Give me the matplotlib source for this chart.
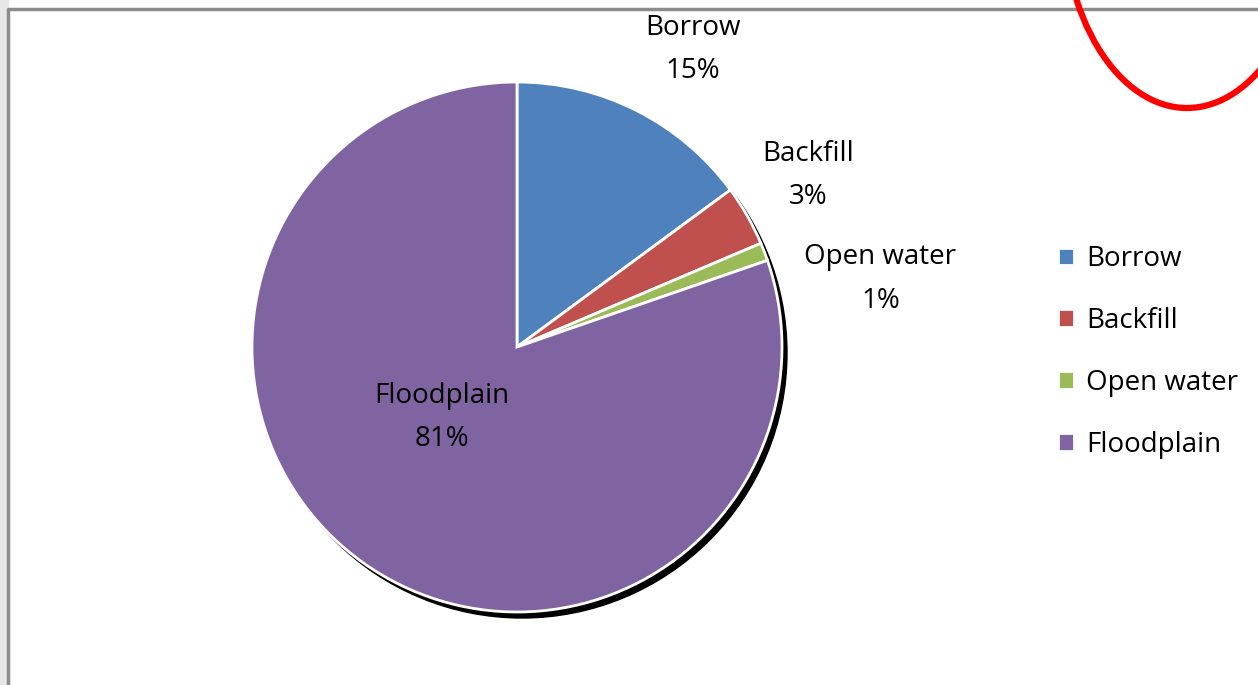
import numpy as np
import matplotlib.pyplot as plt
from matplotlib.patches import Circle, Ellipse, Rectangle

# podaci (udeli procitani sa uglova isecaka)
categories = ["Borrow", "Backfill", "Open water", "Floodplain"]
shares = [14.9, 3.7, 1.1, 80.3]
pct_labels = ["15%", "3%", "1%", "81%"]
colors = ["#4F81BD", "#C0504D", "#9BBB59", "#8064A2"]

# polozaj natpisa: (udaljenost u radijusima, pomak ugla u stepenima)
label_place = [(1.305, -3.8), (1.275, 0.8), (1.395, -10.5), (0.39, -11.5)]

W, H = 1258, 685
plt.rcParams["font.family"] = ["Open Sans", "DejaVu Sans"]

fig = plt.figure(figsize=(W / 100, H / 100), dpi=100)
ax = fig.add_axes([0, 0, 1, 1])

cx, cy, r = 517, H - 347, 265

# pozadina: traka levo i siv okvir
ax.add_patch(Rectangle((0, 0), 8, H, color="#e6e6e6", zorder=0))
ax.plot([8, 8, W], [0, H - 9, H - 9], color="#8c8c8c", lw=2.5, zorder=1)

# senka ispod pite
ax.add_patch(Circle((cx + 5, cy - 6), r, color="black", zorder=1))

wedges, _ = ax.pie(shares, colors=colors, startangle=90, counterclock=False,
                   center=(cx, cy), radius=r, frame=True,
                   wedgeprops=dict(edgecolor="white", linewidth=2))
for w in wedges:
    w.set_zorder(2)

for w, name, pct, (dist, nudge) in zip(wedges, categories, pct_labels, label_place):
    ang = np.deg2rad((w.theta1 + w.theta2) / 2 + nudge)
    x = cx + dist * r * np.cos(ang)
    y = cy + dist * r * np.sin(ang)
    ax.text(x, y, name + "\n" + pct, ha="center", va="center",
            fontsize=20, linespacing=1.75, color="black", zorder=3)

leg = ax.legend(wedges, categories, loc="upper left",
                bbox_to_anchor=(1058 / W, 1 - 245 / H), frameon=False,
                fontsize=20, handlelength=0.58, handleheight=0.58,
                handletextpad=0.42, labelspacing=1.22, borderpad=0,
                borderaxespad=0)

# crvena elipsa gore desno
ax.add_patch(Ellipse((1187, H + 95), 250, 406, fill=False,
                     edgecolor="#ff0000", lw=4.5, zorder=4))

ax.set_xlim(0, W)
ax.set_ylim(0, H)
ax.set_aspect("auto")
ax.axis("off")

fig.savefig("out.png", dpi=100)
